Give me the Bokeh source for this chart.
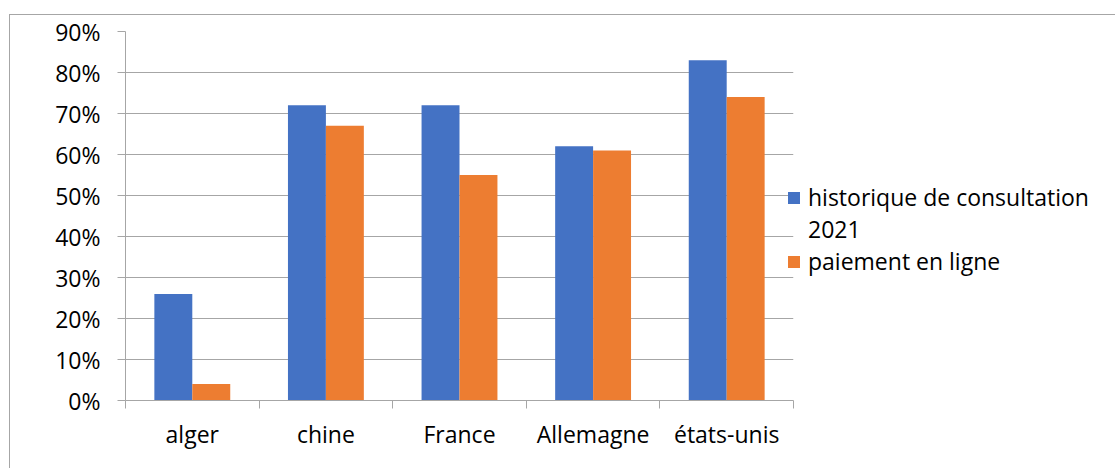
from bokeh.plotting import figure
from bokeh.models import (ColumnDataSource, FixedTicker, NumeralTickFormatter,
                          Range1d, Legend, LegendItem, InlineStyleSheet)
from bokeh.transform import dodge
from bokeh.embed import file_html
from bokeh.resources import INLINE

# Data
countries = ["alger", "chine", "France", "Allemagne", "états-unis"]
historique_2021 = [0.26, 0.72, 0.72, 0.62, 0.83]
paiement_en_ligne = [0.04, 0.67, 0.55, 0.61, 0.74]
legend_lines = ["historique de consultation", "2021", "paiement en ligne"]
y_ticks = [0.0, 0.1, 0.2, 0.3, 0.4, 0.5, 0.6, 0.7, 0.8, 0.9]

BLUE = "#4472C4"
ORANGE = "#ED7D31"
GRID = "#a6a6a6"
FONT = "Open Sans"

centers = [i + 0.5 for i in range(len(countries))]
source = ColumnDataSource(dict(x=centers, hist=historique_2021, pay=paiement_en_ligne))

# Outer chart-area border (left and top edges)
frame_css = InlineStyleSheet(css="""
:host::after {
  content: ""; position: absolute; left: 9px; top: 14px; right: -2px; bottom: -2px;
  border-left: 1px solid #a6a6a6; border-top: 1px solid #a6a6a6;
  pointer-events: none;
}
""")

p = figure(width=1115, height=468, output_backend="svg", toolbar_location=None,
           x_range=Range1d(0, len(countries)), y_range=Range1d(0, 0.9),
           frame_width=668, frame_height=369,
           min_border_left=125, min_border_right=322, min_border_top=31,
           min_border_bottom=68, outline_line_color=None,
           background_fill_color="white", border_fill_color="white")
p.stylesheets.append(frame_css)

bar_w = 0.284
r_hist = p.vbar(x=dodge("x", -bar_w / 2, range=p.x_range), top="hist", width=bar_w,
                source=source, fill_color=BLUE, line_color=None)
r_pay = p.vbar(x=dodge("x", bar_w / 2, range=p.x_range), top="pay", width=bar_w,
               source=source, fill_color=ORANGE, line_color=None)
# empty, transparent renderer used for the wrapped second line of the first legend entry
r_wrap = p.vbar(x=[], top=[], width=bar_w, fill_alpha=0, line_alpha=0)

# X axis: labels at category centres, tick marks at category boundaries
xt = FixedTicker(ticks=centers, minor_ticks=list(range(len(countries) + 1)))
p.xaxis.ticker = xt
p.xaxis.major_label_overrides = {c: n for c, n in zip(centers, countries)}
p.xaxis.major_tick_out = 0
p.xaxis.major_tick_in = 0
p.xaxis.minor_tick_out = 8
p.xaxis.minor_tick_in = 0
p.xaxis.minor_tick_line_color = GRID
p.xaxis.axis_line_color = GRID
p.xaxis.major_label_text_font = FONT
p.xaxis.major_label_text_font_size = "23px"
p.xaxis.major_label_text_color = "#000000"
p.xaxis.major_label_standoff = 9

# Y axis
p.yaxis.ticker = FixedTicker(ticks=y_ticks)
p.yaxis.formatter = NumeralTickFormatter(format="0%")
p.yaxis.major_tick_out = 8
p.yaxis.major_tick_in = 0
p.yaxis.major_tick_line_color = GRID
p.yaxis.minor_tick_line_color = None
p.yaxis.axis_line_color = GRID
p.yaxis.major_label_text_font = FONT
p.yaxis.major_label_text_font_size = "23px"
p.yaxis.major_label_text_color = "#000000"
p.yaxis.major_label_standoff = 17

p.xgrid.grid_line_color = None
p.ygrid.grid_line_color = GRID
p.ygrid.ticker = FixedTicker(ticks=y_ticks)

legend = Legend(items=[LegendItem(label=legend_lines[0], renderers=[r_hist]),
                       LegendItem(label=legend_lines[1], renderers=[r_wrap]),
                       LegendItem(label=legend_lines[2], renderers=[r_pay])],
                location=(-7, 123), orientation="vertical",
                label_text_font=FONT, label_text_font_size="23px",
                label_text_color="#000000", glyph_width=15, glyph_height=15,
                label_height=32, label_standoff=7, spacing=0, padding=0, margin=0,
                border_line_color=None, background_fill_alpha=0)
p.add_layout(legend, "right")

open("out.html", "w").write(file_html(p, INLINE))
